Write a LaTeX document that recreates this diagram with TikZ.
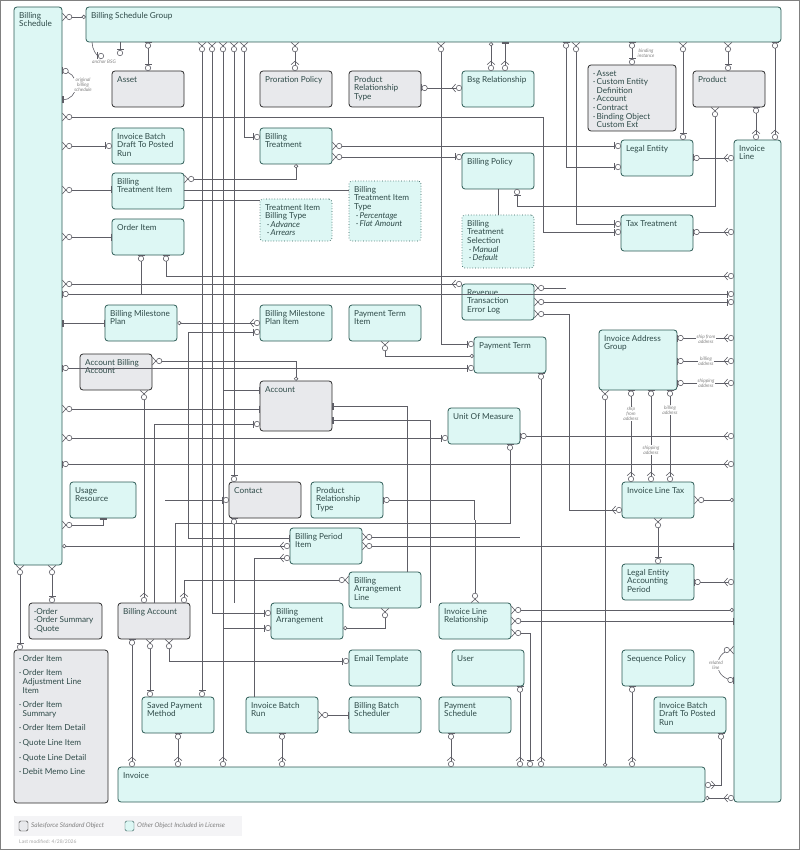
\documentclass[tikz,border=0pt]{standalone}
\usepackage{fontspec}
\setmainfont{Lato}
\usetikzlibrary{arrows.meta}
\definecolor{tfill}{HTML}{DDF7F4}
\definecolor{tdraw}{HTML}{2C5A55}
\definecolor{gfill}{HTML}{E8E9EC}
\definecolor{gdraw}{HTML}{2B2B2B}
\definecolor{lcol}{HTML}{5E5E66}
\definecolor{txt}{HTML}{2E4A48}
\tikzset{
 box/.style={draw=tdraw,fill=tfill,rounded corners=3pt,line width=0.8pt,inner sep=0pt,outer sep=0pt},
 gbox/.style={draw=gdraw,fill=gfill,rounded corners=3pt,line width=0.8pt,inner sep=0pt,outer sep=0pt},
 dbox/.style={draw=tdraw,fill=tfill,rounded corners=3pt,dotted,line width=0.7pt,inner sep=0pt,outer sep=0pt},
 lbl/.style={inner sep=0pt,align=left,text=txt,font=\fontsize{8.2}{8.6}\selectfont},
 ln/.style={draw=lcol,line width=0.6pt},
 sm/.style={text=gray,font=\itshape\fontsize{4.8}{5}\selectfont,align=center,inner sep=0.5pt,fill=white},
}
\def\M{Straight Barb[reversed,length=3.5pt,width=8pt,line width=0.6pt] Circle[open,length=6pt,width=6pt,line width=0.6pt,fill=white]}
\def\O{Bar[width=7pt,line width=0.6pt] Circle[open,length=6pt,width=6pt,line width=0.6pt,fill=white]}
\def\I{Bar[width=7pt,line width=0.6pt] Bar[width=7pt,line width=0.6pt]}
\def\D{Diamond[open,length=4.5pt,width=4.5pt,fill=white]}
\newcommand\ent[7]{%
 \node[#6,anchor=north west,minimum width={(#4-#2)*1pt},minimum height={(#5-#3)*1pt}] (#1) at (#2,#3) {};
 \node[lbl,anchor=north west] at ([shift={(5,5)}]#1.north west) {#7};}
\def\b{·\,}
\def\bi{\hspace*{2pt}\itshape ·\,}
\begin{document}
\begin{tikzpicture}[x=1pt,y=-1pt]
\useasboundingbox (0,0) rectangle (800,850);
\draw[gray,line width=0.8pt] (0.5,0.5) rectangle (799.5,849.5);
\draw[ln,{\M}-{\D}] (62,17) -- (86,17);
% entities
\ent{bs}{14}{7}{62}{565}{box}{Billing\\Schedule}
\ent{bsg}{86}{7}{781}{42}{box}{Billing Schedule Group}
\ent{asset}{112}{71}{184}{107}{gbox}{Asset}
\ent{pp}{260}{71}{332}{107}{gbox}{Proration Policy}
\ent{prtg}{349}{71}{421}{107}{gbox}{Product\\Relationship\\Type}
\ent{bsgr}{462}{71}{534}{107}{box}{Bsg Relationship}
\ent{list}{588}{65}{676}{131}{gbox}{\b Asset\\\b Custom Entity\\\hphantom{\b}Definition\\\b Account\\\b Contract\\\b Binding Object\\\hphantom{\b}Custom Ext}
\ent{prod}{693}{71}{765}{107}{gbox}{Product}
\ent{ibd}{112}{128}{184}{164}{box}{Invoice Batch\\Draft To Posted\\Run}
\ent{bt}{260}{128}{332}{164}{box}{Billing\\Treatment}
\ent{bti}{112}{173}{184}{209}{box}{Billing\\Treatment Item}
\ent{bp}{462}{153}{534}{189}{box}{Billing Policy}
\ent{le}{621}{140}{693}{176}{box}{Legal Entity}
\ent{il}{734}{140}{781}{802}{box}{Invoice\\Line}
\ent{tibt}{260}{199}{332}{241}{dbox}{Treatment Item\\Billing Type\\{\bi Advance}\\{\bi Arrears}}
\ent{btit}{349}{181}{421}{241}{dbox}{Billing\\Treatment Item\\Type\\{\bi Percentage}\\{\bi Flat Amount}}
\ent{bts}{462}{215}{534}{268}{dbox}{Billing\\Treatment\\Selection\\{\bi Manual}\\{\bi Default}}
\ent{tt}{621}{215}{693}{251}{box}{Tax Treatment}
\ent{oi}{112}{219}{184}{255}{box}{Order Item}
\ent{rtel}{462}{284}{534}{320}{box}{Revenue\\Transaction\\Error Log}
\ent{bmp}{105}{305}{177}{341}{box}{Billing Milestone\\Plan}
\ent{bmpi}{260}{305}{332}{341}{box}{Billing Milestone\\Plan Item}
\ent{pti}{349}{305}{421}{341}{box}{Payment Term\\Item}
\ent{pt}{474}{337}{546}{373}{box}{Payment Term}
\ent{iag}{599}{330}{677}{390}{box}{Invoice Address\\Group}
\ent{aba}{80}{354}{152}{390}{gbox}{Account Billing\\Account}
\ent{acc}{260}{381}{332}{431}{gbox}{Account}
\ent{uom}{448}{408}{520}{444}{box}{Unit Of Measure}
\ent{ur}{70}{482}{136}{518}{box}{Usage\\Resource}
\ent{con}{229}{482}{301}{518}{gbox}{Contact}
\ent{prt}{311}{482}{383}{518}{box}{Product\\Relationship\\Type}
\ent{ilt}{622}{482}{694}{518}{box}{Invoice Line Tax}
\ent{bpi}{290}{528}{362}{564}{box}{Billing Period\\Item}
\ent{leap}{622}{564}{694}{600}{box}{Legal Entity\\Accounting\\Period}
\ent{bal}{349}{572}{421}{608}{box}{Billing\\Arrangement\\Line}
\ent{ord}{29}{603}{102}{639}{gbox}{·Order\\·Order Summary\\·Quote}
\ent{ba}{118}{603}{190}{639}{gbox}{Billing Account}
\ent{barr}{271}{603}{343}{639}{box}{Billing\\Arrangement}
\ent{ilr}{439}{603}{511}{639}{box}{Invoice Line\\Relationship}
\ent{oil}{14}{650}{108}{803}{gbox}{\b Order Item\\[6pt]\b Order Item\\\hphantom{\b}Adjustment Line\\\hphantom{\b}Item\\[6pt]\b Order Item\\\hphantom{\b}Summary\\[6pt]\b Order Item Detail\\[6pt]\b Quote Line Item\\[6pt]\b Quote Line Detail\\[6pt]\b Debit Memo Line}
\ent{et}{349}{650}{421}{686}{box}{Email Template}
\ent{user}{452}{650}{524}{686}{box}{User}
\ent{sp}{622}{650}{694}{686}{box}{Sequence Policy}
\ent{spm}{142}{697}{214}{733}{box}{Saved Payment\\Method}
\ent{ibr}{246}{697}{318}{733}{box}{Invoice Batch\\Run}
\ent{bbs}{349}{697}{421}{733}{box}{Billing Batch\\Scheduler}
\ent{ps}{439}{697}{511}{733}{box}{Payment\\Schedule}
\ent{ibd2}{654}{697}{726}{733}{box}{Invoice Batch\\Draft To Posted\\Run}
\ent{inv}{118}{767}{705}{802}{box}{Invoice}
% legend
\fill[gfill!50] (14,816) rectangle (242,836);
\draw[gdraw,fill=gfill,rounded corners=1.5pt] (19,821) rectangle (28,831);
\node[anchor=west,inner sep=0pt,text=gray,font=\itshape\fontsize{6.5}{7}\selectfont] (lg1) at (31,826) {Salesforce Standard Object};
\draw[tdraw,fill=tfill,rounded corners=1.5pt] (125,821) rectangle (134,831);
\node[anchor=west,inner sep=0pt,text=gray,font=\itshape\fontsize{6.5}{7}\selectfont] (lg2) at (137,826) {Other Object Included in License};
\node[anchor=west,inner sep=0pt,text=gray!70,font=\fontsize{5}{5}\selectfont] (lm) at (19,842) {Last modified: 4/28/2026};
% connectors top
\draw[ln,-{\O}] (bsg.south -| 120,0) -- ++(0,14);
\draw[ln,-{\O}] (bsg.south -| 92,0) to[out=-90,in=180] ++(12,14);
\node[sm] at (104,62) {anchor BSG};
\draw[ln,{\O}-{\O}] (bsg.south -| 148,0) -- (asset.north -| 148,0);
\draw[ln,{\M}-{\M}] (bsg.south -| 295,0) -- (pp.north -| 295,0);
\draw[ln,{\D}-{\M}] (bsg.south -| 491,0) -- (bsgr.north -| 491,0);
\draw[ln,{\I}-{\M}] (bsg.south -| 505,0) -- (bsgr.north -| 505,0);
\draw[ln,{\O}-{\M}] (prtg.east |- 0,88) -- (bsgr.west |- 0,88);
\draw[ln,{\O}-{\O}] (bsg.south -| 632,0) -- (list.north -| 632,0);
\node[sm,anchor=west] at (637,53) {binding\\instance};
\draw[ln,{\M}-{\O}] (bsg.south -| 683,0) -- (le.north -| 683,0);
\draw[ln,{\M}-{\O}] (bsg.south -| 728,0) -- (prod.north -| 728,0);
\draw[ln,{\O}-{\M}] (bsg.south -| 775,0) -- (il.north -| 775,0);
\draw[ln,{\O}-{\M}] (prod.south -| 756,0) -- (il.north -| 756,0);
\draw[ln,{\M}-{\O}] (prod.south -| 715,0) |- (517,206) -- (bp.south -| 517,0);
\draw[ln,{\O}-{\M}] (le.east |- 0,158) -- (il.west |- 0,158);
\draw[ln,{\O}-{\M}] (tt.east |- 0,232) -- (il.west |- 0,232);
\draw[ln,{\M}-{\O}] (bsg.south -| 441,0) |- (pt.west |- 0,344);
\draw[ln,{\O}-{\O}] (bsg.south -| 566,0) |- (le.west |- 0,167);
\draw[ln,{\M}-{\O}] (bsg.south -| 576,0) |- (tt.west |- 0,224);
% buses
\draw[ln,{\M}-{\O}] (bsg.south -| 202,0) -- (spm.north -| 202,0);
\draw[ln,{\M}-{\O}] (bsg.south -| 212,0) |- (barr.west |- 0,613);
\draw[ln,{\M}-{\M}] (bsg.south -| 223,0) -- (inv.north -| 223,0);
\draw[ln,{\M}-{\O}] (bsg.south -| 234,0) -- (con.north -| 234,0);
\draw[ln,{\M}-{\O}] (bsg.south -| 244,0) |- (bt.west |- 0,137);
% left side
\draw[ln,{\O}-] (bs.east |- 0,71) to[out=0,in=90] ++(14,14);
\draw[ln,{\I}-] (bs.east |- 0,100) to[out=0,in=-90] ++(14,-14);
\node[sm] at (83,85) {original\\billing\\schedule};
\draw[ln,{\M}-{\O}] (bs.east |- 0,117) -| (543,232) -- (tt.west |- 0,232);
\draw[ln,{\M}-{\O}] (bs.east |- 0,146) -- (ibd.west |- 0,146);
\draw[ln,{\M}-{\I}] (bs.east |- 0,190) -- (bti.west |- 0,190);
\draw[ln,{\M}-{\I}] (bs.east |- 0,237) -- (oi.west |- 0,237);
\draw[ln,{\M}-{\D}] (bti.east |- 0,179) -| (bt.south -| 296,0);
\draw[ln] (bti.east |- 0,190) -- (btit.west |- 0,190);
\draw[ln] (bti.east |- 0,200) -- (tibt.west |- 0,200);
\draw[ln,{\M}-{\O}] (bt.east |- 0,146) -- (le.west |- 0,146);
\draw[ln,{\M}-{\O}] (bt.east |- 0,157) -- (bp.west |- 0,157);
\draw[ln] (bp.south -| 498,0) -- (bts.north -| 498,0);
\draw[ln,{\O}-{\M}] (oi.south -| 166,0) |- (il.west |- 0,276);
\draw[ln,{\O}-] (oi.south -| 141,0) -- ++(0,40);
\draw[ln,{\M}-{\M}] (bs.east |- 0,284) -- (rtel.west |- 0,284);
\draw[ln,{\O}-{\O}] (bs.east |- 0,294) -- (il.west |- 0,294);
\draw[ln,{\M}-{\O}] (rtel.east |- 0,302) -- (il.west |- 0,302);
\draw[ln,{\M}-] (rtel.east |- 0,288) -- (566,288);
\draw[ln,{\M}-{\M}] (rtel.east |- 0,314) -| (569,510) -- (ilt.west |- 0,510);
\draw[ln,{\I}-{\I}] (bs.east |- 0,323) -- (bmp.west |- 0,323);
\draw[ln,{\D}-{\M}] (bmp.east |- 0,323) -- (bmpi.west |- 0,323);
\draw[ln,-{\O}] (188,538) |- (bmpi.west |- 0,332);
\draw[ln,{\M}-{\D}] (pti.south -| 385,0) |- (pt.west |- 0,356);
\draw[ln,{\O}-{\O}] (bs.east |- 0,368) -- (pt.west |- 0,368);
\draw[ln,{\M}-{\D}] (aba.east |- 0,361) -| (acc.north -| 296,0);
\draw[ln,{\M}-{\M}] (aba.south -| 144,0) -- (ba.north -| 144,0);
\draw[ln,-{\I}] (223,390) -- (acc.west |- 0,390);
\draw[ln,{\M}-{\I}] (bs.east |- 0,409) -- (acc.west |- 0,409);
\draw[ln,-{\O}] (154,603) |- (acc.west |- 0,424);
\draw[ln,{\I}-] (acc.east |- 0,406) -| (407,572);
\draw[ln,{\I}-] (acc.east |- 0,420) -| (430,603);
\draw[ln,{\O}-{\M}] (uom.east |- 0,436) -- (il.west |- 0,436);
\draw[ln,{\M}-{\O}] (bs.east |- 0,438) -- (uom.west |- 0,438);
\draw[ln,{\O}-] (uom.south -| 510,0) |- (175,523) -- (175,603);
\draw[ln,{\O}-{\M}] (bs.east |- 0,464) -- (il.west |- 0,464);
\draw[ln,{\O}-{\M}] (iag.east |- 0,338) -- (il.west |- 0,338);
\draw[ln,{\O}-{\M}] (iag.east |- 0,361) -- (il.west |- 0,361);
\draw[ln,{\O}-{\M}] (iag.east |- 0,383) -- (il.west |- 0,383);
\node[sm] at (706,339) {ship from\\address};
\node[sm] at (706,361) {billing\\address};
\node[sm] at (706,383) {shipping\\address};
\draw[ln,{\O}-{\M}] (iag.south -| 631,0) -- (ilt.north -| 631,0);
\draw[ln,{\O}-{\M}] (iag.south -| 651,0) -- (ilt.north -| 651,0);
\draw[ln,{\O}-{\M}] (iag.south -| 670,0) -- (ilt.north -| 670,0);
\node[sm] at (631,414) {ship\\from\\address};
\node[sm] at (651,450) {shipping\\address};
\node[sm] at (670,410) {billing\\address};
\draw[ln,{\M}-{\D}] (iag.south -| 605,0) -- (inv.north -| 605,0);
\draw[ln,{\M}-{\O}] (ilt.south -| 658,0) -- (leap.north -| 658,0);
\draw[ln,{\M}-{\D}] (ilt.east |- 0,500) -- (il.west |- 0,500);
\draw[ln,{\M}-{\I}] (bs.east |- 0,525) -| (ur.south -| 103,0);
\draw[ln,{\D}-{\M}] (bs.east |- 0,546) -- (bpi.west |- 0,546);
\draw[ln,-{\I}] (188,538) -- (bpi.west |- 0,538);
\draw[ln,-{\M}] (254,697) |- (bpi.west |- 0,558);
\draw[ln,-{\O}] (165,500) -- (con.west |- 0,500);
\draw[ln,{\O}-] (con.south -| 234,0) -- (234,603);
\draw[ln,{\O}-] (prt.east |- 0,500) -- (474,500) -- (474,520);
\draw[ln,{\M}-] (bpi.east |- 0,537) -- (520,537);
\draw[ln,{\M}-{\I}] (bpi.east |- 0,546) -- (il.west |- 0,546);
\draw[ln,{\O}-{\M}] (leap.east |- 0,582) -- (il.west |- 0,582);
\draw[ln,{\M}-{\M}] (bal.west |- 0,580) -| (ba.north -| 184,0);
\draw[ln,{\M}-{\D}] (bal.south -| 385,0) |- (barr.east |- 0,628);
\draw[ln,-{\O}] (224,628) -- (barr.west |- 0,628);
\draw[ln,{\O}-{\M}] (ba.south -| 132,0) -- (inv.north -| 132,0);
\draw[ln,{\M}-{\O}] (ba.south -| 150,0) -- (spm.north -| 150,0);
\draw[ln,{\M}-{\O}] (ba.south -| 169,0) |- (et.west |- 0,661);
\draw[ln,{\O}-{\M}] (spm.south -| 178,0) -- (inv.north -| 178,0);
\draw[ln,{\M}-{\I}] (ibr.east |- 0,715) -- (bbs.west |- 0,715);
\draw[ln,{\O}-{\M}] (ibr.south -| 282,0) -- (inv.north -| 282,0);
\draw[ln,{\M}-] (ilr.north -| 475,0) -- (475,520);
\draw[ln,{\M}-{\D}] (ilr.east |- 0,610) -- (il.west |- 0,610);
\draw[ln,{\M}-{\I}] (ilr.east |- 0,621) -- (il.west |- 0,621);
\draw[ln,{\M}-{\O}] (ilr.east |- 0,633) -| (inv.north -| 530,0);
\draw[ln,{\O}-{\M}] (user.south -| 520,0) -- (inv.north -| 520,0);
\draw[ln,{\O}-{\M}] (pt.south -| 541,0) -- (inv.north -| 541,0);
\draw[ln,{\O}-{\M}] (ps.south -| 451,0) -- (inv.north -| 451,0);
\draw[ln,{\O}-{\M}] (sp.south -| 632,0) -- (inv.north -| 632,0);
\draw[ln,{\O}-{\M}] (ibd2.south -| 721,0) |- (inv.east |- 0,785);
\draw[ln,{\D}-{\M}] (inv.east |- 0,798) -- (il.west |- 0,798);
\draw[ln,{\M}-] (il.west |- 0,650) to[out=180,in=90] ++(-16,14);
\draw[ln,{\O}-] (il.west |- 0,680) to[out=180,in=-90] ++(-16,-14);
\node[sm] at (716,665) {related\\line};
\draw[ln,{\M}-{\O}] (bs.south -| 20,0) -- (oil.north -| 20,0);
\draw[ln,{\M}-{\O}] (bs.south -| 52,0) -- (ord.north -| 52,0);
\end{tikzpicture}
\end{document}
